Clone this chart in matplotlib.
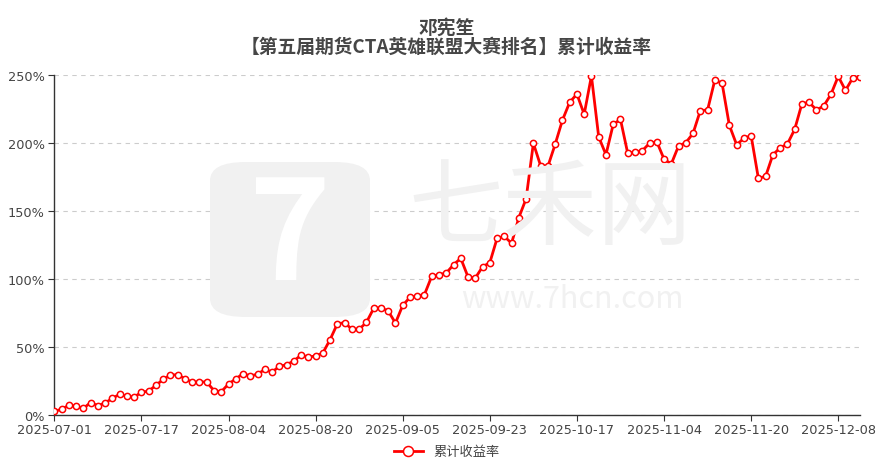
import matplotlib
matplotlib.use("Agg")
import matplotlib.pyplot as plt
import pandas as pd
from matplotlib.patches import FancyBboxPatch

plt.rcParams['font.family'] = ['Noto Sans CJK SC', 'DejaVu Sans']

title_name = "邓宪笙"
title_sub = "【第五届期货CTA英雄联盟大赛排名】累计收益率"
series_name = "累计收益率"

start_date = "2025-07-01"
holidays = ["2025-10-01", "2025-10-02", "2025-10-03", "2025-10-06", "2025-10-07", "2025-10-08"]

values = [
    2.7, 4.2, 7.1, 6.4, 4.9, 9.1, 6.9, 8.8, 12.3, 15.2,
    13.8, 13.2, 16.7, 17.6, 21.8, 26.2, 29.4, 29.6, 26.7, 24.0,
    24.3, 24.3, 17.9, 17.1, 22.8, 26.5, 30.4, 28.7, 30.0, 33.5,
    31.5, 35.8, 37.0, 39.7, 44.1, 42.6, 43.4, 45.6, 55.5, 67.1,
    67.9, 63.0, 63.0, 68.1, 78.4, 78.7, 76.5, 67.6, 80.6, 86.5,
    87.5, 88.6, 102.0, 103.2, 104.4, 110.5, 115.2, 101.5, 100.7, 109.0,
    112.0, 129.9, 131.3, 126.3, 145.2, 159.0, 199.8, 183.3, 182.8, 199.0,
    216.7, 229.9, 236.0, 221.1, 249.3, 204.5, 191.4, 213.7, 217.4, 192.4,
    193.4, 194.3, 199.8, 201.0, 188.2, 184.6, 197.8, 200.2, 207.1, 223.8,
    224.3, 246.3, 243.9, 213.0, 198.8, 203.4, 205.4, 174.0, 175.5, 191.4,
    196.4, 199.3, 210.0, 228.9, 229.9, 224.3, 227.2, 235.8, 249.0, 238.7,
    247.8, 248.3,
]

all_days = pd.bdate_range(start_date, periods=len(values) + len(holidays))
trade_days = [d for d in all_days if d.strftime("%Y-%m-%d") not in holidays][:len(values)]
dates = [d.strftime("%Y-%m-%d") for d in trade_days]

yticks = [0, 50, 100, 150, 200, 250]
tick_step = 12

fig = plt.figure(figsize=(8.93, 4.64), dpi=100)
ax = fig.add_axes([54.3 / 893, 1 - 416 / 464, (860 - 54.3) / 893, (416 - 76) / 464])

x = list(range(len(values)))

# watermark
wm = '#f1f1f1'
fig.text(550 / 893, 1 - 210 / 464, "七禾网", fontsize=68, color=wm, ha='center', va='center',
         zorder=0, fontweight='light')
fig.text(572 / 893, 1 - 300 / 464, "www.7hcn.com", fontsize=22, color=wm, ha='center', va='center',
         zorder=0)
logo = FancyBboxPatch((210 / 893, 1 - 318 / 464), 160 / 893, 155 / 464,
                      boxstyle="round,pad=0,rounding_size=0.04", transform=fig.transFigure,
                      facecolor=wm, edgecolor='none', zorder=0)
fig.patches.append(logo)
fig.text(290 / 893, 1 - 240 / 464, "7", fontsize=100, color='white', ha='center', va='center',
         zorder=0.5, fontweight='bold')
ax.set_facecolor('none')

ax.plot(x, values, color='#ff0000', linewidth=2, marker='o', markersize=4.5,
        markerfacecolor='white', markeredgecolor='#ff0000', markeredgewidth=1.1,
        label=series_name, zorder=3)

ax.set_xlim(0, len(values) - 1)
ax.set_ylim(0, 250)
ax.set_yticks(yticks)
ax.set_yticklabels([f"{v}%" for v in yticks], family='DejaVu Sans')
tick_pos = list(range(0, len(values), tick_step))
ax.set_xticks(tick_pos)
ax.set_xticklabels([dates[i] for i in tick_pos], family='DejaVu Sans')

ax.grid(axis='y', linestyle=(0, (4, 4)), color='#cccccc', linewidth=0.8)
ax.set_axisbelow(True)
for s in ['top', 'right']:
    ax.spines[s].set_visible(False)
for s in ['left', 'bottom']:
    ax.spines[s].set_color('#333333')
    ax.spines[s].set_linewidth(1)
ax.tick_params(axis='y', length=4, color='#333333', labelsize=9.3, labelcolor='#444444', pad=3)
ax.tick_params(axis='x', length=4, color='#333333', labelsize=9.3, labelcolor='#444444', pad=2)

fig.text(0.5, 1 - 28 / 464, title_name, ha='center', va='center', fontsize=13.5,
         fontweight='bold', color='#464646')
fig.text(0.5, 1 - 47 / 464, title_sub, ha='center', va='center', fontsize=13.5,
         fontweight='bold', color='#464646')

leg = fig.legend(loc='center', bbox_to_anchor=(0.5, 1 - 453 / 464), frameon=False,
                 fontsize=9.5, handlelength=2.2, markerscale=1.6)
for t in leg.get_texts():
    t.set_color('#444444')

fig.savefig("out.png", dpi=100)
